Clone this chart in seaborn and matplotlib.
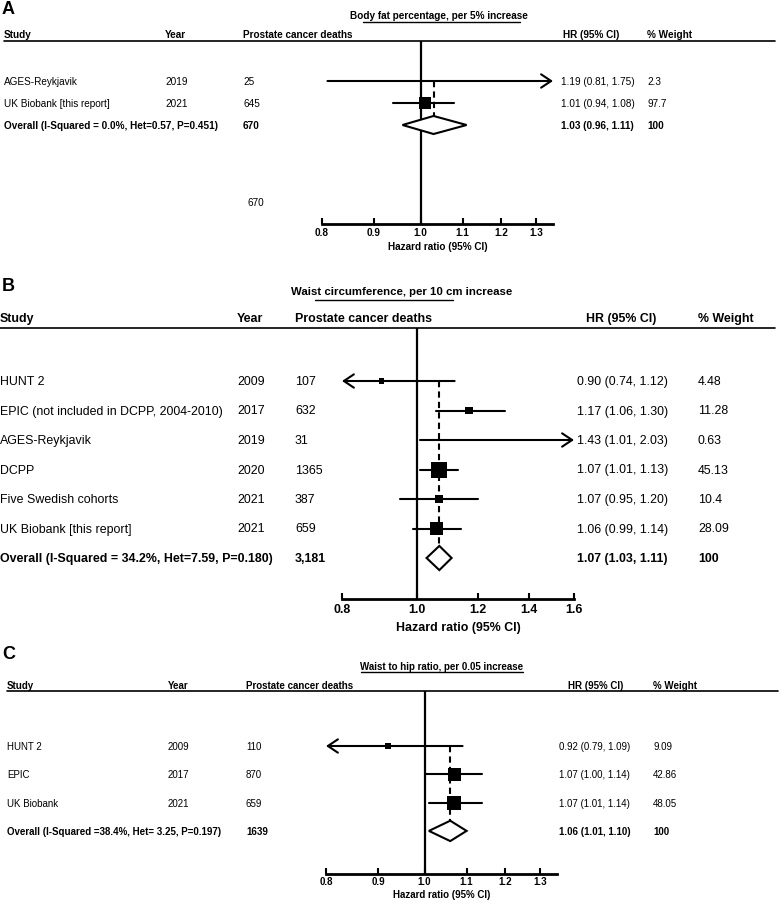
import numpy as np
import pandas as pd
import seaborn as sns
import matplotlib.pyplot as plt
from matplotlib.transforms import blended_transform_factory

# --- DATA ---
A_STUDY = ["AGES-Reykjavik", "UK Biobank [this report]"]
A_YEAR = ["2019", "2021"]
A_DEATHS = ["25", "645"]
A_HR = [1.19, 1.01]
A_LO = [0.81, 0.94]
A_HI = [1.75, 1.08]
A_WEIGHT = ["2.3", "97.7"]
A_OVERALL_LABEL = "Overall (I-Squared = 0.0%, Het=0.57, P=0.451)"
A_OVERALL_DEATHS = "670"
A_OVERALL_HR = [1.03, 0.96, 1.11]
A_OVERALL_WEIGHT = "100"
A_TICKS = [0.8, 0.9, 1.0, 1.1, 1.2, 1.3]

B_STUDY = ["HUNT 2", "EPIC (not included in DCPP, 2004-2010)", "AGES-Reykjavik",
           "DCPP", "Five Swedish cohorts", "UK Biobank [this report]"]
B_YEAR = ["2009", "2017", "2019", "2020", "2021", "2021"]
B_DEATHS = ["107", "632", "31", "1365", "387", "659"]
B_HR = [0.90, 1.17, 1.43, 1.07, 1.07, 1.06]
B_LO = [0.74, 1.06, 1.01, 1.01, 0.95, 0.99]
B_HI = [1.12, 1.30, 2.03, 1.13, 1.20, 1.14]
B_WEIGHT = ["4.48", "11.28", "0.63", "45.13", "10.4", "28.09"]
B_OVERALL_LABEL = "Overall (I-Squared = 34.2%, Het=7.59, P=0.180)"
B_OVERALL_DEATHS = "3,181"
B_OVERALL_HR = [1.07, 1.03, 1.11]
B_OVERALL_WEIGHT = "100"
B_TICKS = [0.8, 1.0, 1.2, 1.4, 1.6]

C_STUDY = ["HUNT 2", "EPIC", "UK Biobank"]
C_YEAR = ["2009", "2017", "2021"]
C_DEATHS = ["110", "870", "659"]
C_HR = [0.92, 1.07, 1.07]
C_LO = [0.79, 1.00, 1.01]
C_HI = [1.09, 1.14, 1.14]
C_WEIGHT = ["9.09", "42.86", "48.05"]
C_OVERALL_LABEL = "Overall (I-Squared =38.4%, Het= 3.25, P=0.197)"
C_OVERALL_DEATHS = "1639"
C_OVERALL_HR = [1.06, 1.01, 1.10]
C_OVERALL_WEIGHT = "100"
C_TICKS = [0.8, 0.9, 1.0, 1.1, 1.2, 1.3]

HEADERS = ["Study", "Year", "Prostate cancer deaths", "HR (95% CI)", "% Weight"]

# --- LAYOUT (pixels) ---
W, H = 780, 904

sns.set_theme(style="white")
plt.rcParams['font.family'] = ['Liberation Sans', 'DejaVu Sans']
plt.rcParams['text.color'] = 'black'
plt.rcParams['axes.labelcolor'] = 'black'
plt.rcParams['xtick.color'] = 'black'

fig = plt.figure(figsize=(W / 100, H / 100), dpi=100)
overlay = fig.add_axes([0, 0, 1, 1])
overlay.set_xlim(0, W)
overlay.set_ylim(H, 0)
overlay.axis("off")


def draw_panel(study, year, deaths, hr, lo, hi, weight, ov_label, ov_deaths, ov_hr,
               ov_weight, ticks, lay):
    fs = lay["fs"]
    n = len(study)
    top, bot = lay["head_line"], lay["axis_y"]
    left, right = lay["axis_px"]
    ax = fig.add_axes([left / W, 1 - bot / H, (right - left) / W, (bot - top) / H])
    ax.set_xscale("log")
    xmin, xmax = lay["xlim"]
    ax.set_xlim(xmin, xmax)
    r0, step = lay["row0"], lay["step"]
    ax.set_ylim((bot - r0) / step, (top - r0) / step)
    ax.patch.set_visible(False)
    for s in ["left", "right", "top"]:
        ax.spines[s].set_visible(False)
    ax.spines["bottom"].set_linewidth(2)
    ax.spines["bottom"].set_color("black")
    ax.set_yticks([])
    ax.set_xticks(ticks)
    ax.set_xticklabels([f"{t:.1f}" for t in ticks], fontweight="bold", fontsize=lay["tick_fs"])
    ax.minorticks_off()
    ax.tick_params(axis="x", direction="in", length=4, width=1.5, color="black",
                   pad=lay["tick_pad"], bottom=True)
    ax.set_xlabel("Hazard ratio (95% CI)", fontweight="bold", fontsize=lay["tick_fs"],
                  labelpad=lay["label_pad"])

    # null line and dashed overall line
    ax.axvline(1.0, color="black", lw=1.6, zorder=1)
    dh = lay["dh"]
    ax.plot([ov_hr[0], ov_hr[0]], [0, n - dh], color="black", lw=1.5,
            linestyle=(0, (3, 2)), zorder=1)

    # confidence intervals
    for i, (l, h) in enumerate(zip(lo, hi)):
        a, b = max(l, xmin), min(h, xmax)
        arrow = dict(arrowstyle="->,head_length=0.45,head_width=0.3", lw=1.5,
                     color="black", shrinkA=0, shrinkB=0, mutation_scale=16)
        if l < xmin and h > xmax:
            arrow["arrowstyle"] = "<->,head_length=0.45,head_width=0.3"
            ax.annotate("", xy=(b, i), xytext=(a, i), arrowprops=arrow, annotation_clip=False)
        elif l < xmin:
            ax.annotate("", xy=(a, i), xytext=(b, i), arrowprops=arrow, annotation_clip=False)
        elif h > xmax:
            ax.annotate("", xy=(b, i), xytext=(a, i), arrowprops=arrow, annotation_clip=False)
        else:
            ax.plot([a, b], [i, i], color="black", lw=1.5, zorder=2)

    # weighted squares (side proportional to sqrt of weight)
    w = np.array([float(v) for v in weight])
    side_pt = lay["k"] * np.sqrt(w) * 0.72
    df = pd.DataFrame({"hr": hr, "row": np.arange(n)})
    sns.scatterplot(data=df, x="hr", y="row", s=side_pt ** 2, marker="s", color="black",
                    linewidth=0, ax=ax, legend=False, zorder=3, clip_on=False)

    # diamond
    est, dl, dhi = ov_hr
    ax.fill([dl, est, dhi, est, dl], [n, n - dh, n, n + dh, n], facecolor="white",
            edgecolor="black", lw=1.5, zorder=3)

    # table text
    tr = blended_transform_factory(overlay.transData, ax.transData)
    cx = lay["cols"]
    rows = list(zip(study, year, deaths, hr, lo, hi, weight))
    for i, (s, y, d, e, l, h, wt) in enumerate(rows):
        hr_txt = f"{e:.2f} ({l:.2f}, {h:.2f})"
        for x, t in zip(cx, [s, y, d, hr_txt, wt]):
            ax.text(x, i, t, transform=tr, fontsize=fs, va="center", ha="left")
    ov_txt = f"{est:.2f} ({dl:.2f}, {dhi:.2f})"
    for x, t in zip(cx, [ov_label, "", ov_deaths, ov_txt, ov_weight]):
        if t:
            ax.text(x, n, t, transform=tr, fontsize=fs, va="center", ha="left",
                    fontweight="bold")

    # headers
    hx = lay["head_cols"]
    for x, t in zip(hx, HEADERS):
        overlay.text(x, lay["head_y"], t, fontsize=fs, fontweight="bold", va="center")
    overlay.plot(lay["head_span"], [top, top], color="black", lw=1.2)
    overlay.text(lay["title_x"], lay["title_y"], lay["title"], fontsize=lay["title_fs"],
                 fontweight="bold", ha="center", va="center")
    ul = lay["underline"]
    overlay.plot([ul[0], ul[1]], [ul[2], ul[2]], color="black", lw=1.0)
    overlay.text(2, lay["letter_y"], lay["letter"], fontsize=13, fontweight="bold",
                 va="center", ha="left")
    return ax, tr


ax_a, tr_a = draw_panel(
    A_STUDY, A_YEAR, A_DEATHS, A_HR, A_LO, A_HI, A_WEIGHT,
    A_OVERALL_LABEL, A_OVERALL_DEATHS, A_OVERALL_HR, A_OVERALL_WEIGHT, A_TICKS,
    dict(fs=7.2, tick_fs=7.2, tick_pad=2, label_pad=3, letter="A", letter_y=9,
         title="Body fat percentage, per 5% increase", title_fs=7.2, title_x=439, title_y=16,
         underline=(363, 520, 23), head_y=35, head_line=42, head_span=[4, 775],
         head_cols=[4, 165, 243, 563, 647], cols=[4, 165, 243, 561, 647],
         row0=82, step=22, axis_y=225, axis_px=(322, 553), xlim=(0.8, 1.35),
         k=12 / np.sqrt(97.7), dh=0.41))
# stray total printed under the panel A table
ax_a.text(248, 5.5, A_OVERALL_DEATHS, transform=tr_a, fontsize=7.2, va="center")

draw_panel(
    B_STUDY, B_YEAR, B_DEATHS, B_HR, B_LO, B_HI, B_WEIGHT,
    B_OVERALL_LABEL, B_OVERALL_DEATHS, B_OVERALL_HR, B_OVERALL_WEIGHT, B_TICKS,
    dict(fs=8.9, tick_fs=8.9, tick_pad=3, label_pad=4, letter="B", letter_y=287,
         title="Waist circumference, per 10 cm increase", title_fs=8.2, title_x=402,
         title_y=292, underline=(315, 453, 301), head_y=319, head_line=329,
         head_span=[0, 775], head_cols=[0, 237, 295, 586, 698], cols=[0, 237, 295, 577, 698],
         row0=382, step=29.5, axis_y=600, axis_px=(342, 574), xlim=(0.8, 1.6),
         k=16 / np.sqrt(45.13), dh=0.41))

draw_panel(
    C_STUDY, C_YEAR, C_DEATHS, C_HR, C_LO, C_HI, C_WEIGHT,
    C_OVERALL_LABEL, C_OVERALL_DEATHS, C_OVERALL_HR, C_OVERALL_WEIGHT, C_TICKS,
    dict(fs=7.0, tick_fs=7.0, tick_pad=1.5, label_pad=2, letter="C", letter_y=655,
         title="Waist to hip ratio, per 0.05 increase", title_fs=7.0, title_x=442, title_y=667,
         underline=(361, 523, 673), head_y=686, head_line=692, head_span=[7, 778],
         head_cols=[7, 168, 246, 568, 653], cols=[7, 168, 246, 559, 653],
         row0=747, step=28.3, axis_y=875, axis_px=(326, 557), xlim=(0.8, 1.35),
         k=14 / np.sqrt(48.05), dh=0.36))

fig.savefig("out.png", dpi=100)
